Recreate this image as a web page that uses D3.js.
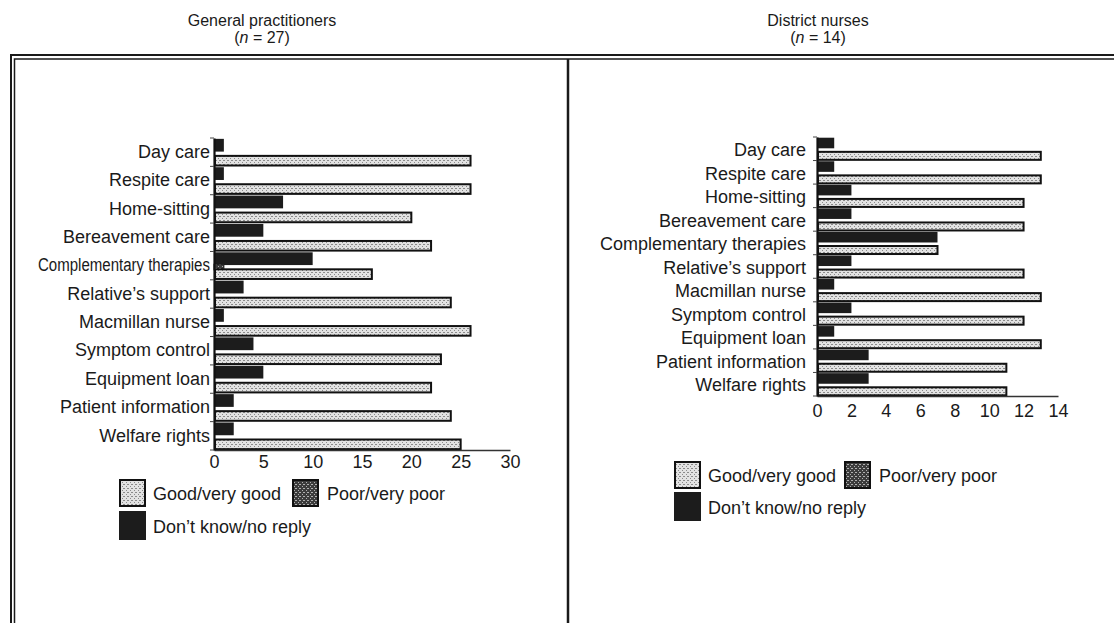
<!DOCTYPE html>
<html>
<head>
<meta charset="utf-8">
<script src="https://cdn.jsdelivr.net/npm/d3@7/dist/d3.min.js"></script>
<style>
  html, body { margin: 0; padding: 0; background: #fff; }
  svg { display: block; }
  text { font-family: "Liberation Sans", Arial, Helvetica, sans-serif; fill: #1a1a1a; }
</style>
</head>
<body>
<svg id="chart" width="1114" height="623"></svg>
<script>
// ---------------- data ----------------
const categories = ["Day care", "Respite care", "Home-sitting", "Bereavement care",
  "Complementary therapies", "Relative\u2019s support", "Macmillan nurse",
  "Symptom control", "Equipment loan", "Patient information", "Welfare rights"];

const gpGood    = [26, 26, 20, 22, 16, 24, 26, 23, 22, 24, 25];
const gpPoor    = [0, 0, 0, 0, 1, 0, 0, 0, 0, 0, 0];
const gpDontKnow= [1, 1, 7, 5, 10, 3, 1, 4, 5, 2, 2];

const dnGood    = [13, 13, 12, 12, 7, 12, 13, 12, 13, 11, 11];
const dnPoor    = [0, 0, 0, 0, 0, 0, 0, 0, 0, 0, 0];
const dnDontKnow= [1, 1, 2, 2, 7, 2, 1, 2, 1, 3, 3];

const gpTicks = [0, 5, 10, 15, 20, 25, 30];
const dnTicks = [0, 2, 4, 6, 8, 10, 12, 14];

const seriesNames = ["Good/very good", "Poor/very poor", "Don\u2019t know/no reply"];

// ---------------- drawing ----------------
const svg = d3.select("#chart");
const defs = svg.append("defs");

function stipple(id, base, dot) {
  const p = defs.append("pattern").attr("id", id)
    .attr("patternUnits", "userSpaceOnUse").attr("width", 4).attr("height", 4);
  p.append("rect").attr("width", 4).attr("height", 4).attr("fill", base);
  p.append("rect").attr("x", 0).attr("y", 0).attr("width", 1).attr("height", 1).attr("fill", dot);
  p.append("rect").attr("x", 2).attr("y", 2).attr("width", 1).attr("height", 1).attr("fill", dot);
  p.append("rect").attr("x", 3).attr("y", 0).attr("width", 1).attr("height", 1).attr("fill", dot);
}
stipple("goodPat", "#e2e2e2", "#8a8a8a");
stipple("poorPat", "#3c3c3c", "#b0b0b0");
const darkFill = "#1c1c1c";

// frame
const frame = svg.append("g").attr("fill", "none").attr("stroke", "#1a1a1a");
frame.append("path").attr("d", "M11,623 V55 H1114").attr("stroke-width", 2);
frame.append("path").attr("d", "M14.5,623 V59 H1114").attr("stroke-width", 1.5);
frame.append("path").attr("d", "M568,59 V623").attr("stroke-width", 2.5);

function panel(cfg) {
  const g = svg.append("g");
  const x = d3.scaleLinear().domain(cfg.domain).range(cfg.xRange);
  const y = d3.scaleBand().domain(categories).range(cfg.yRange).padding(0);
  const bw = y.bandwidth();

  // titles
  g.append("text").attr("x", cfg.titleX).attr("y", 26).attr("text-anchor", "middle")
    .style("font-size", "16px").text(cfg.title);
  const sub = g.append("text").attr("x", cfg.titleX).attr("y", 43).attr("text-anchor", "middle")
    .style("font-size", "16px");
  sub.append("tspan").text("(");
  sub.append("tspan").style("font-style", "italic").text("n");
  sub.append("tspan").text(" = " + cfg.n + ")");

  // bars: don't know (top), poor (middle), good (bottom)
  g.selectAll("rect.dk").data(categories).join("rect").attr("class", "dk")
    .attr("x", x(0)).attr("y", d => y(d) + 0.03 * bw)
    .attr("width", (d, i) => x(cfg.dk[i]) - x(0)).attr("height", 0.45 * bw)
    .attr("fill", darkFill);
  g.selectAll("rect.poor").data(categories).join("rect").attr("class", "poor")
    .attr("x", x(0)).attr("y", d => y(d) + 0.45 * bw)
    .attr("width", (d, i) => Math.max(0, x(cfg.poor[i]) - x(0)))
    .attr("height", 0.2 * bw)
    .attr("fill", "url(#poorPat)").attr("stroke", "#1a1a1a").attr("stroke-width", 1)
    .style("display", (d, i) => cfg.poor[i] > 0 ? null : "none");
  g.selectAll("rect.good").data(categories).join("rect").attr("class", "good")
    .attr("x", x(0) + 1).attr("y", d => y(d) + 0.63 * bw)
    .attr("width", (d, i) => x(cfg.good[i]) - x(0) - 1).attr("height", 0.34 * bw)
    .attr("fill", "url(#goodPat)").attr("stroke", "#111").attr("stroke-width", 2);

  // x axis
  const xa = g.append("g").attr("transform", `translate(0,${cfg.yRange[1]})`)
    .call(d3.axisBottom(x).tickValues(cfg.ticks).tickSize(0).tickPadding(cfg.tickPad));
  xa.select(".domain").attr("stroke", "#333").attr("stroke-width", 1.5);
  xa.selectAll("text").style("font-size", "18px").style("font-family", '"Liberation Sans", Arial, sans-serif').attr("fill", "#1a1a1a");

  // y axis
  const ya = g.append("g").attr("transform", `translate(${cfg.xRange[0]},0)`)
    .call(d3.axisLeft(y).tickSize(0).tickFormat(""));
  ya.select(".domain").attr("stroke", "#111").attr("stroke-width", 2.2);
  // boundary tick marks
  const bounds = categories.map(c => y(c)).concat([cfg.yRange[1]]);
  g.selectAll("line.bt").data(bounds).join("line").attr("class", "bt")
    .attr("x1", cfg.xRange[0] - 4).attr("x2", cfg.xRange[0])
    .attr("y1", d => d).attr("y2", d => d)
    .attr("stroke", "#444").attr("stroke-width", 1);

  // category labels
  g.selectAll("text.cat").data(categories).join("text").attr("class", "cat")
    .attr("x", cfg.xRange[0] - cfg.labelGap).attr("y", d => y(d) + bw / 2 + cfg.labelDy)
    .attr("text-anchor", "end").attr("dominant-baseline", "middle")
    .style("font-size", cfg.labelSize + "px")
    .text(d => d)
    .each(function () {
      const w = this.getComputedTextLength();
      if (w > cfg.labelMax) {
        d3.select(this).attr("textLength", cfg.labelMax).attr("lengthAdjust", "spacingAndGlyphs");
      }
    });

  // legend
  const L = cfg.legend;
  const lg = g.append("g");
  lg.append("rect").attr("x", L.x + 1).attr("y", L.y + 1).attr("width", 25).attr("height", 26)
    .attr("fill", "url(#goodPat)").attr("stroke", "#111").attr("stroke-width", 2);
  lg.append("text").attr("x", L.x + 34).attr("y", L.y + 21).style("font-size", "18px").text(seriesNames[0]);
  lg.append("rect").attr("x", L.px + 1).attr("y", L.y + 1).attr("width", 25).attr("height", 26)
    .attr("fill", "url(#poorPat)").attr("stroke", "#111").attr("stroke-width", 2);
  lg.append("text").attr("x", L.px + 35).attr("y", L.y + 21).style("font-size", "18px").text(seriesNames[1]);
  lg.append("rect").attr("x", L.x).attr("y", L.y + L.dy).attr("width", 27).attr("height", 29)
    .attr("fill", darkFill);
  lg.append("text").attr("x", L.x + 34).attr("y", L.y + L.dy + 22).style("font-size", "18px").text(seriesNames[2]);
}

panel({
  title: "General practitioners", n: 27, titleX: 262,
  domain: [0, 30], xRange: [214, 510], yRange: [138, 450],
  good: gpGood, poor: gpPoor, dk: gpDontKnow, ticks: gpTicks, tickPad: 5,
  labelDy: 1, labelSize: 18, labelGap: 4, labelMax: 172,
  legend: { x: 119, y: 479, px: 292, dy: 32 }
});

panel({
  title: "District nurses", n: 14, titleX: 818,
  domain: [0, 14], xRange: [817, 1058], yRange: [137, 396],
  good: dnGood, poor: dnPoor, dk: dnDontKnow, ticks: dnTicks, tickPad: 8,
  labelDy: 2.5, labelSize: 18, labelGap: 11, labelMax: 222,
  legend: { x: 674, y: 461, px: 844, dy: 31 }
});
</script>
</body>
</html>
